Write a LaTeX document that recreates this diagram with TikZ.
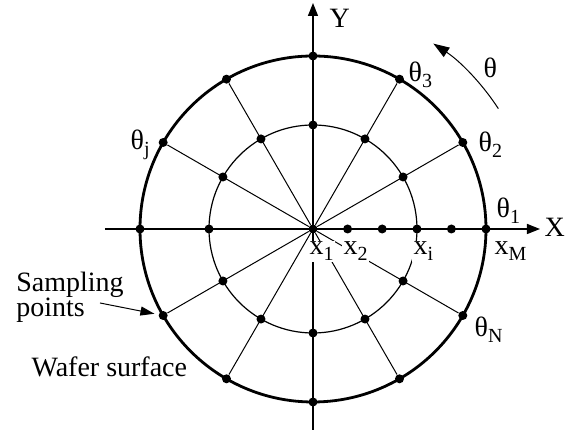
\documentclass[tikz,border=0pt]{standalone}
\usepackage{fontspec}
\setmainfont{Liberation Serif}
\usepackage{tikz}
\usetikzlibrary{arrows.meta}

\newcommand\lowidx[1]{\raisebox{-0.45ex}{\fontsize{10}{10}\selectfont #1}}

\begin{document}
\begin{tikzpicture}[
    x=0.5pt, y=0.5pt,
    every node/.style={font=\fontsize{14}{12.5}\selectfont},
    spot/.style={circle, fill, inner sep=0pt, minimum size=4.5pt},
    lbl/.style={anchor=base west, inner sep=0.6pt},
    cut/.style={lbl, fill=white},
    thin line/.style={line width=0.5pt},
    axis/.style={line width=0.7pt, -{Triangle[length=6.5pt,width=5pt]}},
]
\useasboundingbox (-313,-208) rectangle (256,229);

% Sampling points on both circles
\node[spot] (o) at (0,0) {};
\foreach \a in {0,30,...,330} {
    \node[spot] (out\a) at (\a:173) {};
    \node[spot] (in\a) at (\a:104) {};
}
% Radial points on X
\foreach \k in {1,2,4}
    \node[spot] (xs\k) at (34.6*\k,0) {};

% Wafer surface and inner ring
\draw[line width=1.4pt] (o.center) circle[radius=173];
\draw[thin line, line width=0.6pt] (o.center) circle[radius=104];

% Spokes
\foreach \a in {30,60,120,150,210,240,300,330}
    \draw[thin line] (o) -- (out\a);

% Axes
\coordinate (xl) at (-208,0);
\coordinate (xr) at (227,0);
\coordinate (yb) at (0,-201);
\coordinate (yt) at (0,226);
\draw[axis] (xl) -- (xr);
\draw[axis] (yb) -- (yt);
\node[lbl] (xlab) at (230,-8) {X};
\node[lbl] (ylab) at (15,201) {Y};

% Rotation direction
\coordinate (rs) at (33:221);
\draw[thin line, -{Triangle[length=8pt,width=5.5pt]}] (rs) arc[start angle=33, end angle=57, radius=221];
\node[lbl] (rot) at (169,151) {θ};

% Angle labels
\node[lbl] (t1) at (182,11) {θ\lowidx{1}};
\node[lbl] (t2) at (164,77) {θ\lowidx{2}};
\node[lbl] (t3) at (94,147) {θ\lowidx{3}};
\node[lbl] (tj) at (-184,79) {θ\lowidx{j}};
\node[lbl] (tn) at (160,-108) {θ\lowidx{N}};

% Radius labels
\node[cut] (x1) at (-5,-26) {x\lowidx{1}};
\node[cut] (x2) at (29,-26) {x\lowidx{2}};
\node[cut] (xi) at (99,-26) {x\lowidx{i}};
\node[lbl] (xm) at (180,-26) {x\lowidx{M}};

% Texts at left
\node[anchor=north west, align=left, inner sep=0pt] (samp) at (-297,-43) {Sampling\\points};
\coordinate (sa) at (-213,-74);
\draw[thin line, -{Triangle[length=7pt,width=4.5pt]}, shorten >=2pt] (sa) -- (out210);
\node[lbl] (wafer) at (-283,-148) {Wafer surface};

\end{tikzpicture}
\end{document}
